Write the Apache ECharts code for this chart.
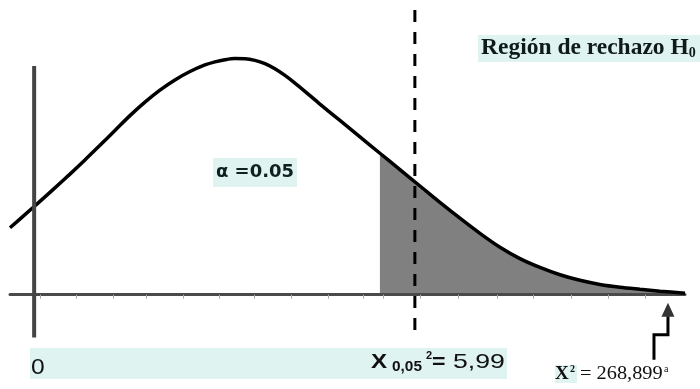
<!DOCTYPE html>
<html>
<head>
<meta charset="utf-8">
<script src="https://cdn.jsdelivr.net/npm/echarts@6/dist/echarts.min.js"></script>
<style>html,body{margin:0;padding:0;background:#fff;}#c{width:700px;height:389px;}</style>
</head>
<body>
<div id="c"></div>
<script>
// chi-square style density curve (x in statistic units, y density)
const curveX = [-0.38, -0.145, 0.091, 0.327, 0.563, 0.799, 1.035, 1.271, 1.507, 1.743, 1.979, 2.215, 2.452, 2.687, 2.845, 3.002, 3.159, 3.317, 3.474, 3.631, 3.788, 3.946, 4.103, 4.260, 4.496, 4.811, 5.126, 5.440, 5.755, 6.070, 6.384, 6.699, 7.014, 7.329, 7.643, 7.958, 8.273, 8.587, 8.902, 9.217, 9.531, 9.846, 10.24];
const curveY = [0.0568, 0.0679, 0.0792, 0.0906, 0.1023, 0.1143, 0.1267, 0.1393, 0.1519, 0.1634, 0.1736, 0.1822, 0.1893, 0.1949, 0.1975, 0.1993, 0.2003, 0.2002, 0.1988, 0.1960, 0.1917, 0.1860, 0.1795, 0.1725, 0.1617, 0.1478, 0.1339, 0.1200, 0.1061, 0.0922, 0.0783, 0.0649, 0.0520, 0.0402, 0.0306, 0.0231, 0.0169, 0.0122, 0.0087, 0.0063, 0.0046, 0.0030, 0.0013];
const shadeStart = 5.44;      // start of the shaded rejection area
const critical = 5.99;        // X²(0,05) critical value
const tickValues = [0.09, 0.66, 1.24, 1.77, 2.34, 2.91, 3.47, 4.04, 4.62, 5.17, 5.49, 6.07, 6.67, 7.28, 7.85, 8.45, 9.04, 9.62];
const yAxisSpan = [-0.0364, 0.194];
const criticalSpan = [-0.038, 0.2415];
const arrowPathX = [9.752, 9.752, 9.972, 9.972];
const arrowPathY = [-0.0551, -0.0339, -0.0339, -0.0186];
const arrowHead = [9.972, -0.0127];

const curve = curveX.map((x, i) => [x, curveY[i]]);
const shade = curve.filter(p => p[0] >= shadeStart);
const arrowPath = arrowPathX.map((x, i) => [x, arrowPathY[i]]);

const cyan = '#dff3f1';
const txt = (x, y, text, font, extra) => Object.assign({type: 'text', x: x, y: y, z: 11, style: {text: text, font: font, fill: '#111',
  textAlign: 'left', textVerticalAlign: 'middle', align: 'left', verticalAlign: 'middle'}}, extra || {});
const chart = echarts.init(document.getElementById('c'));
chart.setOption({
  animation: false,
  backgroundColor: '#fff',
  grid: {left: 10, right: 15, top: 0, bottom: 0},
  xAxis: {
    type: 'value', min: -0.38, max: 10.24, z: 2,
    axisLine: {onZero: true, lineStyle: {color: '#4a4a4a', width: 3}},
    axisTick: {show: true, customValues: tickValues, length: 4, lineStyle: {color: '#aaa', width: 1}},
    axisLabel: {show: false},
    splitLine: {show: false}
  },
  yAxis: {type: 'value', min: -0.08, max: 0.25, show: false},
  series: [
    {type: 'line', data: shade, smooth: 0.3, symbol: 'none', z: 1,
     lineStyle: {width: 0}, areaStyle: {color: '#808080', opacity: 1}},
    {type: 'line', data: curve, smooth: 0.3, symbol: 'none', z: 3,
     lineStyle: {color: '#000', width: 3.5}},
    {type: 'line', data: yAxisSpan.map(v => [0, v]), symbol: 'none', z: 4,
     lineStyle: {color: '#444', width: 4, cap: 'butt'}},
    {type: 'line', data: criticalSpan.slice().reverse().map(v => [critical, v]), symbol: 'none', z: 5,
     lineStyle: {color: '#000', width: 3, type: [12, 10]}},
    {type: 'line', data: arrowPath, symbol: 'none', z: 5,
     lineStyle: {color: '#000', width: 3, join: 'miter'}},
    {type: 'scatter', data: [arrowHead], symbol: 'triangle', symbolSize: [13, 14], z: 5,
     itemStyle: {color: '#000'}}
  ],
  graphic: {elements: [
    {type: 'rect', shape: {x: 478, y: 35, width: 222, height: 27}, style: {fill: cyan}, z: 10},
    {type: 'text', x: 481, y: 48, z: 11, style: {
      text: '{a|Región de rechazo H}{b|0}', textAlign: 'left', textVerticalAlign: 'middle', align: 'left', verticalAlign: 'middle',
      rich: {a: {font: 'bold 23.5px "Liberation Serif"', fill: '#0f1a1a', lineHeight: 25},
             b: {font: 'bold 14px "Liberation Serif"', fill: '#0f1a1a', lineHeight: 14, verticalAlign: 'bottom'}}}},
    {type: 'rect', shape: {x: 213, y: 158, width: 84, height: 29}, style: {fill: cyan}, z: 10},
    {type: 'text', x: 255, y: 172, z: 11, style: {text: 'α =0.05', font: 'bold 18px "DejaVu Sans"', fill: '#102020',
      textAlign: 'center', textVerticalAlign: 'middle', align: 'center', verticalAlign: 'middle'}},
    {type: 'rect', shape: {x: 30, y: 348, width: 477, height: 31}, style: {fill: cyan}, z: 10},
    txt(31, 368, '0', '22px "Liberation Sans"', {scaleX: 1.12}),
    txt(371, 362.7, 'X', 'bold 21px "Liberation Sans"', {scaleX: 1.15}),
    txt(392, 367, '0,05', 'bold 14px "Liberation Sans"', {scaleX: 1.1}),
    txt(426, 356, '2', 'bold 11px "Liberation Sans"'),
    txt(432, 362.7, '=', 'bold 21px "Liberation Sans"', {scaleX: 1.1}),
    txt(453, 362.7, '5,99', '21px "Liberation Sans"', {scaleX: 1.27}),
    {type: 'rect', shape: {x: 555, y: 365, width: 22, height: 18}, style: {fill: cyan}, z: 10},
    txt(555, 374, 'X', 'bold 19px "Liberation Serif"'),
    txt(570, 369, '2', 'bold 10px "Liberation Serif"'),
    txt(580, 374, '= 268,899', '18px "Liberation Serif"', {scaleX: 1.13}),
    txt(664, 369, 'a', '10px "Liberation Serif"')
  ]}
});
</script>
</body>
</html>
